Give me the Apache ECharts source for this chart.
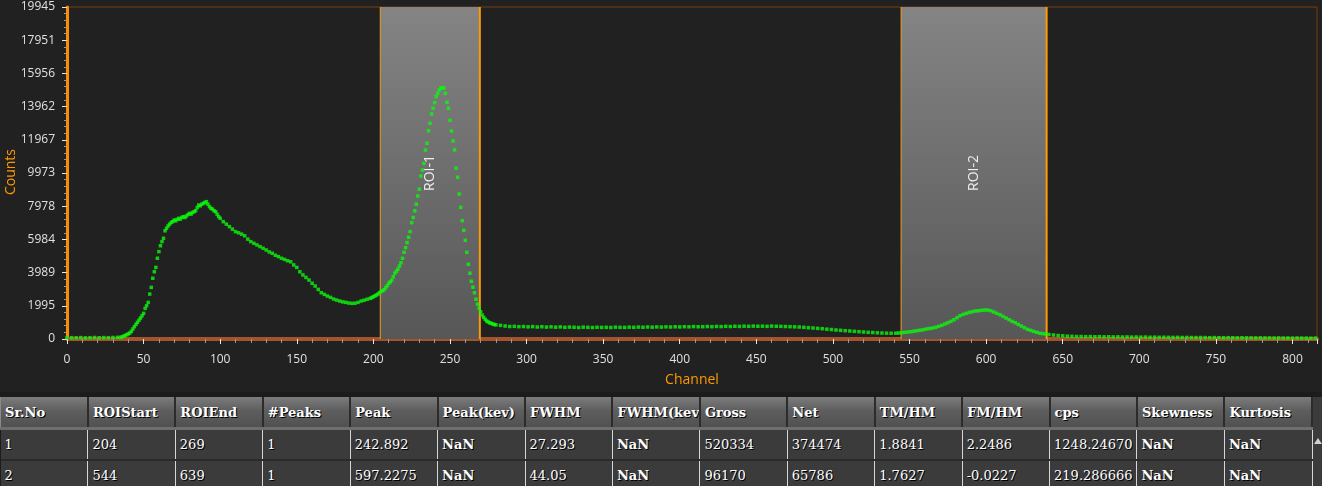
<!DOCTYPE html>
<html>
<head>
<meta charset="utf-8">
<script src="https://cdn.jsdelivr.net/npm/echarts@6/dist/echarts.min.js"></script>
<style>
  html, body { margin: 0; padding: 0; background: #212121; }
  #spectrum { width: 1322px; height: 392px; }
  .tableWrap { position: relative; width: 1322px; height: 94px; background: #1c1c1c; overflow: hidden; }
  table { position: absolute; left: 0; top: 5px; border-collapse: collapse; table-layout: fixed; width: 1313px;
          font-family: "DejaVu Serif", serif; font-size: 13px; color: #fff; }
  th, td { overflow: hidden; white-space: nowrap; text-overflow: clip; text-align: left; padding: 0 0 0 4px;
           text-shadow: 1px 1px 0 #000; }
  th { height: 30px; font-weight: bold; background: linear-gradient(#7c7c7c, #5e5e5e 45%, #515151);
       border-right: 2px solid #2c2c2c; border-left: 1px solid #8a8a8a; border-bottom: 3px solid #6e6e6e; }
  td { height: 29px; font-weight: normal; background: #3b3b3b; border-right: 1px solid #d6d6d6; border-bottom: 2px solid #2a2a2a; }
  td.txt { font-weight: bold; }
  .scroll { position: absolute; left: 1313px; top: 5px; width: 9px; height: 89px; background: #3b3b3b; }
  .scroll .arrow { position: absolute; left: 1px; top: 41px; width: 0; height: 0;
                   border-left: 4px solid transparent; border-right: 4px solid transparent; border-bottom: 6px solid #cfcfcf; }
</style>
</head>
<body>
<div id="spectrum"></div>
<div class="tableWrap">
  <table id="roiTable"></table>
  <div class="scroll"><div class="arrow"></div></div>
</div>
<script>
// 计数值，按通道分段读取
const baseCounts = [70, 80, 75, 85, 70, 80, 90, 75, 85, 80, 90, 100]; // ch 0..33 step 3
const riseCounts = [ // ch 35..100
  100, 130, 170, 210, 260, 310, 360, 460, 600, 740,
  880, 1000, 1130, 1260, 1400, 1540, 1840, 2000, 2200, 2700,
  3100, 3650, 4040, 4300, 4850, 5250, 5600, 5850, 6050, 6500,
  6650, 6790, 6900, 7000, 7050, 7150, 7100, 7190, 7250, 7200,
  7310, 7350, 7300, 7390, 7480, 7550, 7500, 7600, 7650, 7710,
  7900, 8050, 8000, 8100, 8150, 8200, 8250, 8100, 7950, 7850,
  7800, 7700, 7650, 7500, 7350, 7250
];
const shoulderCounts = [ // ch 102..198 step 2
  7050, 6900, 6750, 6600, 6450, 6380, 6300, 6200, 6000, 5850,
  5750, 5650, 5550, 5450, 5350, 5230, 5150, 5030, 4950, 4850,
  4780, 4700, 4640, 4450, 4300, 4040, 3850, 3700, 3540, 3350,
  3180, 2980, 2780, 2680, 2580, 2500, 2400, 2340, 2280, 2230,
  2200, 2160, 2140, 2150, 2200, 2280, 2330, 2390, 2440
];
const roi1Counts = [ // ch 199..280
  2490, 2540, 2590, 2640, 2700, 2780, 2850, 2900, 2960, 3080,
  3200, 3340, 3430, 3540, 3740, 3950, 4070, 4190, 4380, 4580,
  4850, 5210, 5490, 5790, 6110, 6450, 6990, 7300, 7700, 8100,
  8590, 9000, 9790, 10150, 10550, 11350, 11760, 12510, 12960, 13520,
  13860, 14200, 14560, 14760, 14960, 15080, 15100, 15080, 14760, 14220,
  13860, 13140, 12500, 11900, 11360, 10260, 9720, 8710, 7910, 7110,
  6530, 5930, 5210, 4490, 3950, 3470, 3110, 2780, 2390, 2100,
  1860, 1640, 1440, 1300, 1180, 1080, 1020, 970, 940, 900,
  870, 850
];
const plateauCounts = [ // ch 283..541 step 3
  820, 780, 750, 760, 740, 750, 730, 745, 720, 735,
  715, 730, 710, 725, 700, 715, 705, 690, 710, 700,
  690, 705, 695, 700, 690, 710, 700, 695, 710, 700,
  715, 705, 720, 710, 725, 715, 730, 720, 735, 725,
  740, 730, 745, 735, 740, 750, 740, 755, 745, 760,
  750, 765, 755, 770, 760, 775, 765, 770, 760, 775,
  765, 760, 750, 740, 730, 720, 700, 680, 660, 640,
  620, 590, 570, 540, 520, 500, 480, 460, 440, 420,
  400, 390, 370, 360, 350, 345, 350
];
const roi2Counts = [ // ch 543..641 step 2
  360, 380, 400, 420, 440, 470, 500, 530, 560, 600,
  630, 660, 700, 760, 820, 900, 980, 1060, 1160, 1280,
  1400, 1480, 1540, 1600, 1640, 1680, 1700, 1720, 1740, 1740,
  1700, 1620, 1540, 1460, 1360, 1260, 1160, 1060, 980, 880,
  780, 680, 580, 520, 460, 400, 350, 320, 300, 270
];
const tailCounts = [ // ch 644..815 step 3
  240, 210, 190, 170, 160, 150, 150, 140, 145, 135,
  140, 130, 135, 125, 130, 120, 125, 115, 120, 110,
  115, 105, 110, 100, 105, 100, 95, 100, 90, 95,
  90, 85, 90, 85, 80, 85, 80, 75, 80, 75,
  70, 75, 70, 70, 65, 70, 65, 65, 60, 65,
  60, 60, 55, 60, 55, 55, 50, 55
];

// Y轴刻度
const yTicks = [0, 1995, 3989, 5984, 7978, 9973, 11967, 13962, 15956, 17951, 19945];

// ROI 表格
const roiNames = ['ROI-1', 'ROI-2'];
const roiStart = [204, 544];
const roiEnd = [269, 639];
const tableHeaders = ['Sr.No', 'ROIStart', 'ROIEnd', '#Peaks', 'Peak', 'Peak(kev)', 'FWHM', 'FWHM(kev)',
  'Gross', 'Net', 'TM/HM', 'FM/HM', 'cps', 'Skewness', 'Kurtosis'];
const tableRows = [
  ['1', '204', '269', '1', '242.892', 'NaN', '27.293', 'NaN', '520334', '374474', '1.8841', '2.2486', '1248.24670', 'NaN', 'NaN'],
  ['2', '544', '639', '1', '597.2275', 'NaN', '44.05', 'NaN', '96170', '65786', '1.7627', '-0.0227', '219.286666', 'NaN', 'NaN'],
];

const segment = (startCh, step, counts) => counts.map((c, i) => [startCh + i * step, c]);

const spectrumData = [].concat(
  segment(0, 3, baseCounts),
  segment(35, 1, riseCounts),
  segment(102, 2, shoulderCounts),
  segment(199, 1, roi1Counts),
  segment(283, 3, plateauCounts),
  segment(543, 2, roi2Counts),
  segment(644, 3, tailCounts)
);

const roiData = roiNames.map((name, i) => [roiStart[i], roiEnd[i]]);

const labelFont = '"Open Sans", "Noto Sans", sans-serif';

const renderRoi = (params, api) => {
  const s = api.coord([api.value(0) + 0.5, 0]);
  const e = api.coord([api.value(1) + 0.5, 0]);
  const cs = params.coordSys;
  return {
    type: 'group',
    children: [
      {
        type: 'rect',
        shape: { x: s[0], y: cs.y, width: e[0] - s[0], height: cs.height },
        style: {
          fill: new echarts.graphic.LinearGradient(0, 0, 0, 1, [
            { offset: 0, color: '#848484' },
            { offset: 1, color: '#575757' },
          ]),
        },
      },
      { type: 'line', shape: { x1: s[0], y1: cs.y, x2: s[0], y2: cs.y + cs.height }, style: { stroke: '#f0a020', lineWidth: 1 } },
      { type: 'line', shape: { x1: e[0], y1: cs.y, x2: e[0], y2: cs.y + cs.height }, style: { stroke: '#ff9a00', lineWidth: 2 } },
      {
        type: 'text',
        x: (s[0] + e[0]) / 2,
        y: cs.y + cs.height / 2,
        rotation: Math.PI / 2,
        style: {
          text: roiNames[params.dataIndex],
          fill: '#eeeeee',
          font: '14px ' + labelFont,
          align: 'center',
          verticalAlign: 'middle',
        },
      },
    ],
  };
};

const myChart = echarts.init(document.getElementById('spectrum'));
const option = {
  backgroundColor: '#212121',
  animation: false,
  grid: {
    left: 67, right: 5, top: 7, bottom: 53,
    outerBoundsMode: 'none',
    containLabel: false,
    show: true, borderColor: '#7a3f0c', borderWidth: 1,
  },
  // Y轴名称单独画
  graphic: [
    {
      type: 'text',
      x: 11,
      y: 172,
      rotation: Math.PI / 2,
      style: {
        text: 'Counts',
        fill: '#ff9900',
        font: '14px ' + labelFont,
        align: 'center',
        verticalAlign: 'middle',
      },
    },
  ],
  xAxis: {
    type: 'value',
    min: 0,
    max: 816,
    interval: 50,
    offset: 2,
    name: 'Channel',
    nameLocation: 'middle',
    nameGap: 32,
    nameTextStyle: { color: '#ff9900', fontSize: 14, fontFamily: labelFont },
    axisLine: { lineStyle: { color: '#a4542a', width: 4 } },
    axisTick: { show: true, length: 5, lineStyle: { color: '#e6e6e6' } },
    minorTick: { show: true, splitNumber: 5, length: 4, lineStyle: { color: '#9a9a9a' } },
    axisLabel: { color: '#e0e0e0', fontSize: 12, fontFamily: labelFont, margin: 13, showMaxLabel: false },
    splitLine: { show: false },
  },
  yAxis: {
    type: 'value',
    min: 0,
    max: 19945,
    interval: 1994.5,
    axisLine: { show: true, lineStyle: { color: '#ff8c00', width: 3 } },
    axisTick: { show: true, length: 5, lineStyle: { color: '#e6e6e6' } },
    minorTick: { show: true, splitNumber: 5, length: 3, lineStyle: { color: '#9a9a9a' } },
    axisLabel: {
      color: '#e0e0e0', fontSize: 12, fontFamily: labelFont, margin: 12,
      formatter: (v) => {
        const i = Math.round(v / 1994.5);
        return yTicks[i] !== undefined ? String(yTicks[i]) : '';
      },
    },
    splitLine: { show: false },
  },
  series: [
    {
      type: 'custom',
      renderItem: renderRoi,
      encode: { x: [0, 1] },
      data: roiData,
      silent: true,
      z: 1,
    },
    {
      type: 'scatter',
      data: spectrumData,
      symbol: 'rect',
      symbolSize: 3.5,
      itemStyle: { color: '#0cf80c' },
      z: 3,
    },
  ],
};
myChart.setOption(option);

// 表格
const table = document.getElementById('roiTable');
let html = '<tr>' + tableHeaders.map((h) => `<th>${h}</th>`).join('') + '</tr>';
tableRows.forEach((row) => {
  html += '<tr>' + row.map((c) => `<td class="${c === 'NaN' ? 'txt' : ''}">${c}</td>`).join('') + '</tr>';
});
table.innerHTML = html;
</script>
</body>
</html>
